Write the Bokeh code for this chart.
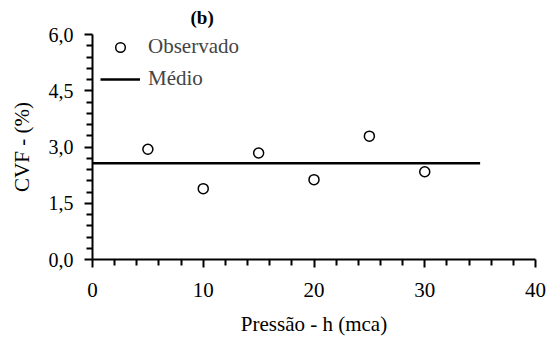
from bokeh.plotting import figure
from bokeh.models import (Range1d, FixedTicker, CustomJSTickFormatter, Legend, LegendItem, Title)
from bokeh.embed import file_html
from bokeh.resources import INLINE

# Data
pressao = [5, 10, 15, 20, 25, 30]
cvf_observado = [2.94, 1.89, 2.84, 2.13, 3.29, 2.34]
medio_x = [0, 35]
medio_y = [2.57, 2.57]

x_ticks = [0, 10, 20, 30, 40]
x_minor = [2, 4, 6, 8, 12, 14, 16, 18, 22, 24, 26, 28, 32, 34, 36, 38]
y_ticks = [0, 1.5, 3.0, 4.5, 6.0]
y_minor = [0.3, 0.6, 0.9, 1.2, 1.8, 2.1, 2.4, 2.7, 3.3, 3.6, 3.9, 4.2, 4.8, 5.1, 5.4, 5.7]

FONT = "Liberation Serif"

p = figure(width=547, height=343, output_backend="svg", toolbar_location=None,
           x_range=Range1d(0, 40), y_range=Range1d(0, 6),
           min_border_left=92, min_border_right=12, min_border_top=34, min_border_bottom=84)
p.outline_line_color = None
p.grid.visible = False
p.background_fill_color = "white"
p.border_fill_color = "white"

p.xaxis.ticker = FixedTicker(ticks=x_ticks, minor_ticks=x_minor)
p.yaxis.ticker = FixedTicker(ticks=y_ticks, minor_ticks=y_minor)
p.yaxis.formatter = CustomJSTickFormatter(code="return tick.toFixed(1).replace('.', ',');")

for ax in (p.xaxis[0], p.yaxis[0]):
    ax.axis_line_width = 2
    ax.major_tick_line_width = 2
    ax.minor_tick_line_width = 2
    ax.major_tick_in = 0
    ax.major_tick_out = 8
    ax.minor_tick_in = 0
    ax.minor_tick_out = 6
    ax.major_label_text_font = FONT
    ax.major_label_text_font_size = "21px"
    ax.major_label_text_color = "black"
    ax.axis_label_text_font = FONT
    ax.axis_label_text_font_size = "21px"
    ax.axis_label_text_font_style = "normal"
    ax.axis_label_text_color = "black"
    ax.axis_line_color = "black"
    ax.major_tick_line_color = "black"
    ax.minor_tick_line_color = "black"

p.yaxis.major_label_text_font_size = "20px"
p.xaxis.axis_label = "Pressão - h (mca)"
p.yaxis.axis_label = "CVF - (%)"
p.xaxis.major_label_standoff = 15
p.xaxis.axis_label_standoff = 12
p.yaxis.major_label_standoff = 11
p.yaxis.axis_label_standoff = 12

line_r = p.line(medio_x, medio_y, line_color="black", line_width=2.5)
circ_r = p.scatter(pressao, cvf_observado, marker="circle", size=10,
                   fill_color="white", line_color="black", line_width=1.5)

legend = Legend(items=[LegendItem(label="Observado", renderers=[circ_r]),
                       LegendItem(label="Médio", renderers=[line_r])],
                location=(8, 168), margin=0, padding=0, spacing=7,
                glyph_width=40, glyph_height=24, label_height=24, label_standoff=8,
                label_text_font=FONT, label_text_font_size="21px",
                border_line_alpha=0, background_fill_alpha=0)
p.add_layout(legend, "center")

t = Title(text="(b)", align="left", offset=98, standoff=10, vertical_align="top",
          text_font=FONT, text_font_size="19px", text_font_style="bold", text_color="black")
p.add_layout(t, "above")

open("out.html", "w").write(file_html(p, INLINE))
